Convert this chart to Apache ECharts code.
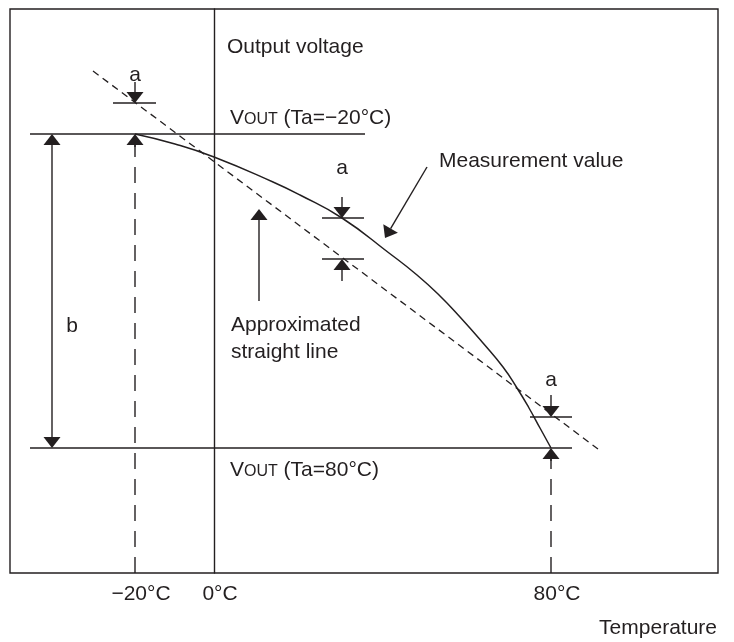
<!DOCTYPE html>
<html>
<head>
<meta charset="utf-8">
<title>Output voltage vs temperature</title>
<script src="https://cdn.jsdelivr.net/npm/echarts@6/dist/echarts.min.js"></script>
<style>
  html, body { margin: 0; padding: 0; background: #fff; }
  #chart { width: 734px; height: 642px; }
</style>
</head>
<body>
<div id="chart"></div>
<script>
// schematic units: x = 0 on the 0°C line, y = 0 on the bottom of the frame
const xRange = [-204, 504];
const yRange = [0, 564];
const tempTicks = [-79, 0, 337];
const tempLabels = ['−20°C', '0°C', '80°C'];

// measured output voltage curve
const measuredX = [-79, -39, 0, 59, 86, 128, 175, 203, 226, 246, 269, 289, 303, 315, 326, 337];
const measuredY = [439, 429, 416, 391, 378, 355, 320, 298, 277, 256, 230, 206, 185, 165, 145, 125];

// approximated straight line (end points)
const approxX = [-121, 384];
const approxY = [502, 124];

// Vout levels and the short "a" ticks: [x1, y1, x2, y2]
const solidSegs = [
    [-184, 439, 151, 439],   // Vout (Ta=-20°C)
    [-184, 125, 358, 125],   // Vout (Ta=80°C)
    [-101, 470, -58, 470],
    [108, 355, 150, 355],
    [108, 314, 150, 314],
    [316, 156, 358, 156]
];
// dashed drop lines at -20°C and 80°C
const dropSegs = [
    [-79, 0, -79, 439],
    [337, 0, 337, 125]
];
// arrows: [fromX, fromY, toX(tip), toY(tip)]
const arrows = [
    [-162, 282, -162, 439],
    [-162, 282, -162, 125],
    [-79, 426, -79, 439],
    [337, 112, 337, 125],
    [-79, 491, -79, 470],
    [128, 376, 128, 355],
    [128, 292, 128, 314],
    [337, 178, 337, 156],
    [45, 272, 45, 364],
    [213, 406, 171, 335]
];

const ink = '#231f20';
const font = "'Liberation Sans', Arial, Helvetica, sans-serif";
const fs = 21;

const chart = echarts.init(document.getElementById('chart'));

function renderArrow(params, api) {
    const p1 = api.coord([api.value(0), api.value(1)]);
    const p2 = api.coord([api.value(2), api.value(3)]);
    const dx = p2[0] - p1[0], dy = p2[1] - p1[1];
    const len = Math.sqrt(dx * dx + dy * dy);
    const ux = dx / len, uy = dy / len;
    const hl = 11, hw = 8.5;
    const bx = p2[0] - ux * hl, by = p2[1] - uy * hl;
    return {
        type: 'group',
        children: [
            { type: 'line', shape: { x1: p1[0], y1: p1[1], x2: bx, y2: by }, style: { stroke: ink, lineWidth: 1.4 } },
            { type: 'polygon', shape: { points: [[p2[0], p2[1]], [bx - uy * hw, by + ux * hw], [bx + uy * hw, by - ux * hw]] }, style: { fill: ink } }
        ]
    };
}

function note(x, y, text, align, extra) {
    return {
        value: [x, y],
        label: Object.assign({ show: true, formatter: text, position: 'inside', align: align, verticalAlign: 'middle' }, extra || {})
    };
}

const notes = [
    note(13, 526, 'Output voltage', 'left'),
    note(16, 455, '{v|V}{s|OUT}{t| (Ta=−20°C)}', 'left'),
    note(16, 103, '{v|V}{s|OUT}{t| (Ta=80°C)}', 'left'),
    note(225, 412, 'Measurement value', 'left'),
    note(17, 234, 'Approximated\nstraight line', 'left', { lineHeight: 27 }),
    note(-79, 498, 'a', 'center'),
    note(128, 405, 'a', 'center'),
    note(337, 193, 'a', 'center'),
    note(-142, 247, 'b', 'center'),
    note(503, -55, 'Temperature', 'right')
];

const lineSeries = [];
solidSegs.forEach(s => {
    lineSeries.push({
        type: 'line', symbol: 'none', silent: true,
        data: [[s[0], s[1]], [s[2], s[3]]],
        lineStyle: { color: ink, width: 1.4 }
    });
});
dropSegs.forEach(s => {
    lineSeries.push({
        type: 'line', symbol: 'none', silent: true,
        data: [[s[0], s[1]], [s[2], s[3]]],
        lineStyle: { color: ink, width: 1.4, type: [16, 10] }
    });
});

chart.setOption({
    animation: false,
    backgroundColor: '#fff',
    textStyle: { fontFamily: font },
    grid: {
        left: 10, top: 9, width: 708, height: 564,
        show: true, borderColor: ink, borderWidth: 1.4, backgroundColor: 'transparent'
    },
    xAxis: {
        type: 'value', min: xRange[0], max: xRange[1],
        axisLine: { show: false },
        axisTick: { show: false },
        splitLine: { show: false },
        axisLabel: {
            customValues: tempTicks,
            formatter: v => tempLabels[tempTicks.indexOf(v)],
            margin: 11, color: ink, fontSize: fs, fontFamily: font,
            padding: [0, 0, 0, 12]
        }
    },
    yAxis: {
        type: 'value', min: yRange[0], max: yRange[1],
        axisLine: { show: true, onZero: true, lineStyle: { color: ink, width: 1.4 } },
        axisTick: { show: false },
        axisLabel: { show: false },
        splitLine: { show: false }
    },
    series: lineSeries.concat([
        {
            name: 'Approximated straight line',
            type: 'line', symbol: 'none', silent: true,
            data: approxX.map((x, i) => [x, approxY[i]]),
            lineStyle: { color: ink, width: 1.3, type: [7, 5] }
        },
        {
            name: 'Measurement value',
            type: 'line', symbol: 'none', silent: true, smooth: 0.5,
            data: measuredX.map((x, i) => [x, measuredY[i]]),
            lineStyle: { color: ink, width: 1.5 }
        },
        {
            type: 'custom', silent: true,
            renderItem: renderArrow,
            encode: { x: [0, 2], y: [1, 3] },
            data: arrows
        },
        {
            type: 'scatter', symbol: 'circle', symbolSize: 0, silent: true, clip: false,
            itemStyle: { color: 'transparent', opacity: 1 },
            label: {
                color: ink, fontSize: fs, fontFamily: font, opacity: 1,
                rich: {
                    v: { fontSize: fs, color: ink, fontFamily: font, verticalAlign: 'bottom' },
                    s: { fontSize: 16, color: ink, fontFamily: font, verticalAlign: 'bottom', padding: [0, 0, 1, 0] },
                    t: { fontSize: fs, color: ink, fontFamily: font, verticalAlign: 'bottom' }
                }
            },
            data: notes
        }
    ])
});
</script>
</body>
</html>
